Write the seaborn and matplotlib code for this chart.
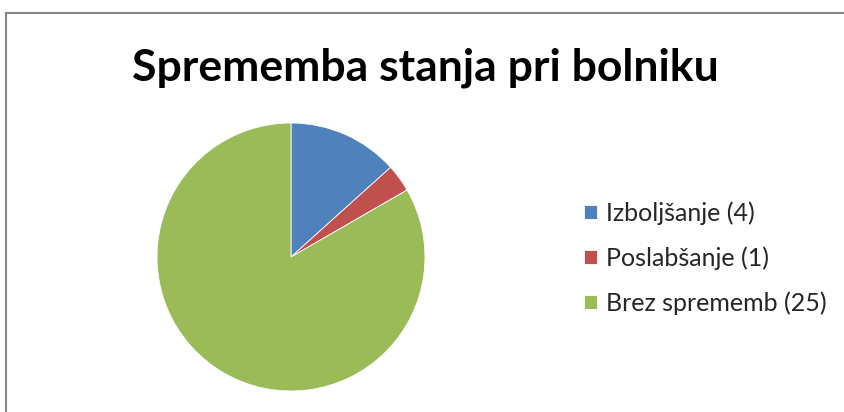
import matplotlib
matplotlib.use("Agg")
import matplotlib.pyplot as plt
import seaborn as sns
from matplotlib.patches import Rectangle

# Data
categories = ["Izboljšanje", "Poslabšanje", "Brez sprememb"]
counts = [4, 1, 25]
colors = ["#4F81BD", "#C0504D", "#9BBB59"]
title = "Sprememba stanja pri bolniku"

sns.set_theme(style="white")
plt.rcParams['font.family'] = ['Lato', 'DejaVu Sans']

fig = plt.figure(figsize=(8.44, 4.12), dpi=100)
W, H = 844, 412

# chart frame (runs off the right and bottom edges)
fig.patches.append(Rectangle((6 / W, -0.1), 1.0, (H - 13) / H + 0.1, transform=fig.transFigure,
                             fill=False, edgecolor="#868686", linewidth=1.5))

# pie axes: centre ~ (291, 257), radius ~ 133 px
r = 134
cx, cy = 291, 257
ax = fig.add_axes([(cx - r) / W, (H - cy - r) / H, 2 * r / W, 2 * r / H])
wedges, _ = ax.pie(counts, colors=colors, startangle=90, counterclock=False,
                   wedgeprops=dict(edgecolor="white", linewidth=0.6))
ax.set_aspect("equal")
ax.set_xlim(-1, 1)
ax.set_ylim(-1, 1)

fig.text(425 / W, 1 - 68 / H, title, ha="center", va="center",
         fontsize=32, fontweight="bold", color="black")

labels = [f"{c} ({n})" for c, n in zip(categories, counts)]
fig.legend(wedges, labels, loc="center left", bbox_to_anchor=(574 / W, 1 - 258 / H),
           frameon=False, fontsize=18, handlelength=0.5, handleheight=0.5,
           handletextpad=0.4, labelspacing=0.85, borderaxespad=0)

fig.savefig("out.png", dpi=100, facecolor="white")
